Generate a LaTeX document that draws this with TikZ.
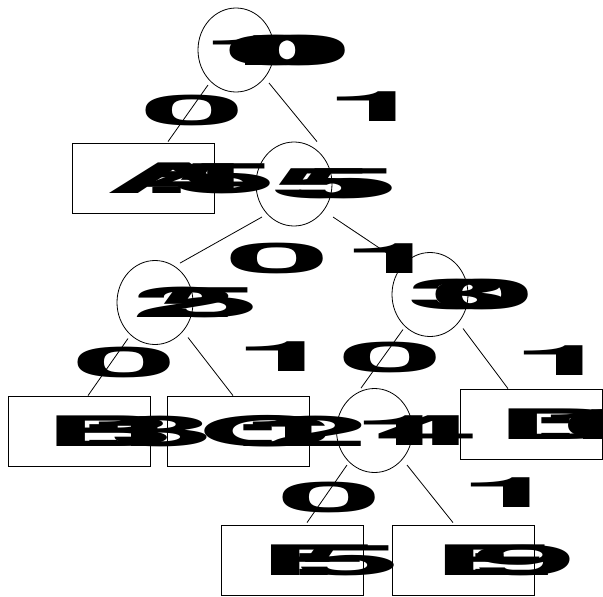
\documentclass[tikz,border=0pt]{standalone}
\usepackage{fontspec}
\newfontfamily\lblfont{TeX Gyre Heros}
\usepackage{graphicx}
\usetikzlibrary{positioning,shapes.geometric}

% glyphs stretched wide, advances kept narrow; [shift] moves the text only
\newcommand\widex{4.5}
\ExplSyntaxOn
\NewDocumentCommand\widelbl{O{0}m}{\makebox[0pt]{\hspace*{#1pt}\hspace*{#1pt}\tl_map_inline:nn{#2}{\rlap{\scalebox{\widex}[1]{##1}}\hphantom{##1}}}}
\ExplSyntaxOff

\tikzset{
  every node/.style={font=\lblfont\bfseries\fontsize{42}{42}\selectfont},
  % --- nodes
  inode/.style = {ellipse, draw, line width=0.8pt, minimum width=76pt,
                  minimum height=84pt, inner sep=0pt},
  leaf/.style  = {rectangle, draw, line width=0.8pt, minimum width=142pt,
                  minimum height=70pt, inner sep=0pt},
  bit/.style   = {inner sep=0pt},
  % --- edges
  e/.style     = {draw, line width=0.8pt},
}

\begin{document}
\begin{tikzpicture}[x=1pt,y=-1pt]
  \useasboundingbox (0,0) rectangle (603,597);

  \node[inode] (n100) at (236,50)    {\widelbl{100}};
  \node[leaf]  (la)   at (143.5,178) {\widelbl[7]{A:45}};
  \node[inode] (n55)  at (294,184)   {\widelbl{55}};
  \node[inode] (n25)  at (155,302.5) {\widelbl{25}};
  \node[inode] (n30)  at (430,294.5) {\widelbl{30}};
  \node[leaf]  (lb)   at (79.5,431)  {\widelbl[8]{B:13}};
  \node[leaf]  (lc)   at (238,431)   {\widelbl[4]{C:12}};
  \node[inode] (n14)  at (374.5,430.5) {\widelbl{14}};
  \node[leaf]  (ld)   at (531,424)   {\widelbl[9]{D:16}};
  \node[leaf]  (lf)   at (292.5,560) {\widelbl[-4]{F:5}};
  \node[leaf]  (le)   at (463,560)   {\widelbl{E:9}};

  % edge labels
  \node[bit] (b100l) at (152,110) {\widelbl{0}};
  \node[bit] (b100r) at (336,107) {\widelbl{1}};
  \node[bit] (b55l)  at (237,258) {\widelbl{0}};
  \node[bit] (b55r)  at (353,259) {\widelbl{1}};
  \node[bit] (b25l)  at (84,362)  {\widelbl{0}};
  \node[bit] (b25r)  at (245,357) {\widelbl{1}};
  \node[bit] (b30l)  at (350,357) {\widelbl{0}};
  \node[bit] (b30r)  at (523,361) {\widelbl{1}};
  \node[bit] (b14l)  at (289,497) {\widelbl{0}};
  \node[bit] (b14r)  at (470,493) {\widelbl{1}};

  \draw[e] ([shift={(-28,35)}]n100.center) -- ([shift={(24.5,-1)}]la.north);
  \draw[e] ([shift={(33,33)}]n100.center)  -- ([shift={(23,0)}]n55.north);
  \draw[e] ([shift={(-32,33)}]n55.center)  -- ([shift={(25,3)}]n25.north);
  \draw[e] ([shift={(39,33)}]n55.center)   -- ([shift={(-40,3)}]n30.north);
  \draw[e] ([shift={(-27,36)}]n25.center)  -- ([shift={(8.5,0)}]lb.north);
  \draw[e] ([shift={(33,35)}]n25.center)   -- ([shift={(-5,0)}]lc.north);
  \draw[e] ([shift={(-27,35)}]n30.center)  -- ([shift={(-13.5,0)}]n14.north);
  \draw[e] ([shift={(33,34)}]n30.center)   -- ([shift={(-23,0)}]ld.north);
  \draw[e] ([shift={(-27.5,34.5)}]n14.center) -- ([shift={(14.5,-2)}]lf.north);
  \draw[e] ([shift={(32.5,34.5)}]n14.center)  -- ([shift={(-10,-2)}]le.north);
\end{tikzpicture}
\end{document}
